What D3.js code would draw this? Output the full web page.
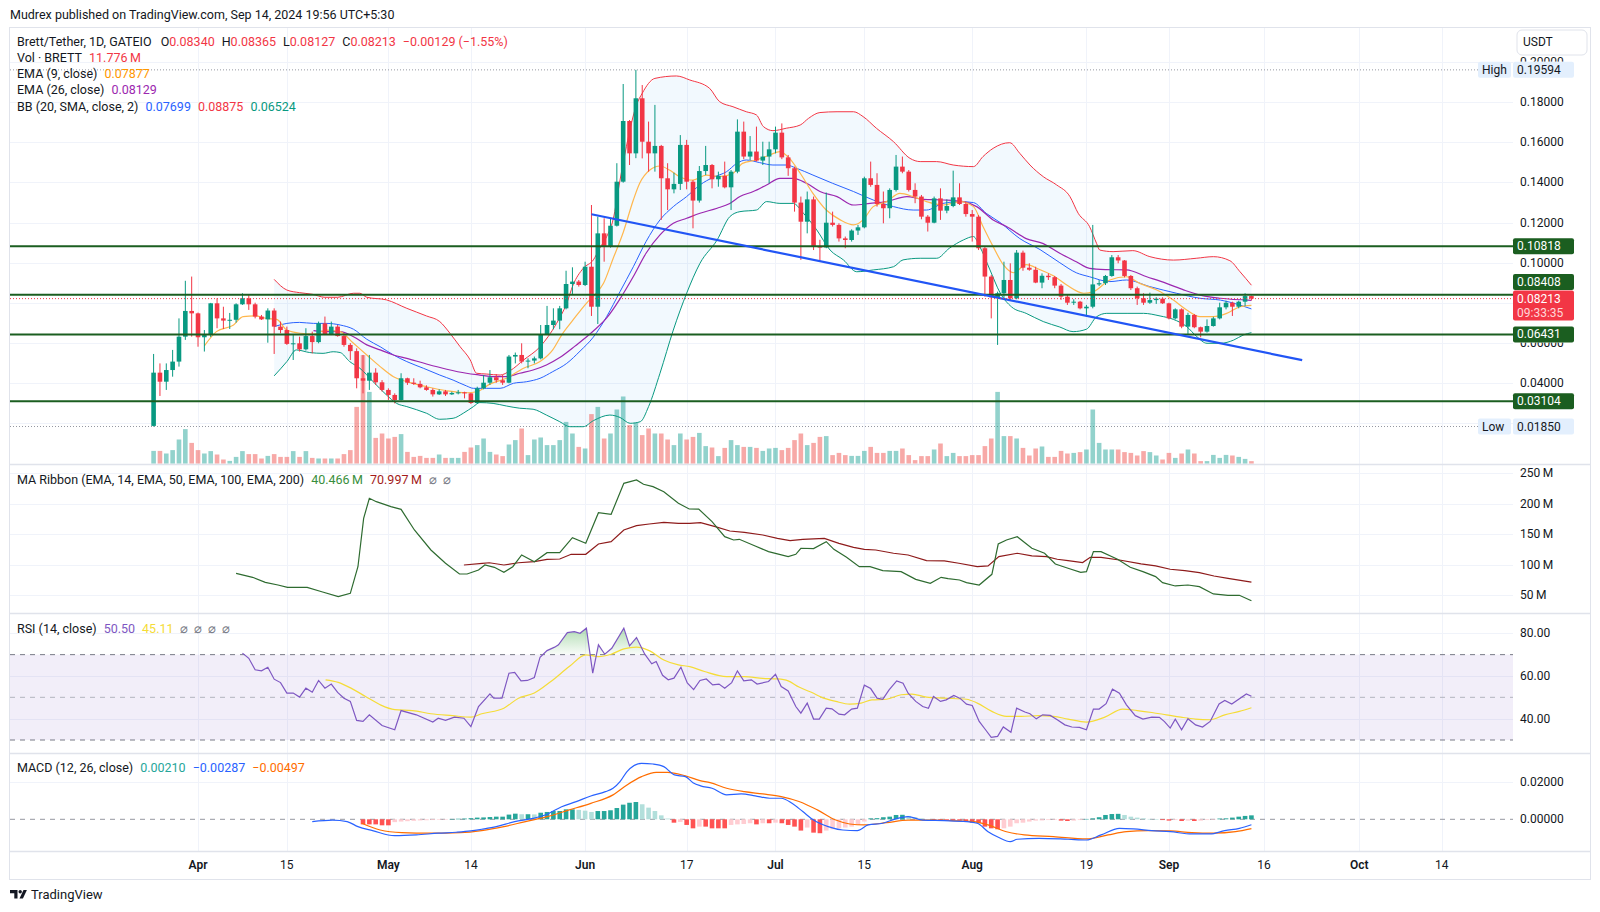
<!DOCTYPE html>
<html><head><meta charset="utf-8">
<script src="https://cdn.jsdelivr.net/npm/d3@7"></script>
<style>
body{margin:0;background:#fff;}
svg{display:block;font-family:Roboto,"Noto Sans",sans-serif;}
</style></head>
<body><svg id="c" width="1600" height="912"></svg>
<script>
// ---------------- DATA ----------------
const startDate = "2024-03-25"; // first daily bar
const open=[0.0188,0.0453,0.0408,0.0466,0.0508,0.0632,0.0760,0.0748,0.0629,0.0640,
0.0798,0.0723,0.0712,0.0716,0.0793,0.0823,0.0793,0.0732,0.0718,0.0762,
0.0682,0.0665,0.0596,0.0599,0.0569,0.0635,0.0605,0.0698,0.0645,0.0682,
0.0635,0.0591,0.0560,0.0425,0.0413,0.0453,0.0405,0.0367,0.0342,0.0317,
0.0425,0.0403,0.0397,0.0380,0.0367,0.0345,0.0360,0.0345,0.0352,0.0355,
0.0350,0.0302,0.0375,0.0403,0.0430,0.0415,0.0403,0.0533,0.0541,0.0508,
0.0513,0.0524,0.0645,0.0690,0.0712,0.0773,0.0894,0.0906,0.0889,0.0980,
0.0781,0.1146,0.1080,0.1184,0.1403,0.1705,0.1544,0.1818,0.1602,0.1544,
0.1581,0.1420,0.1365,0.1392,0.1586,0.1403,0.1309,0.1456,0.1486,0.1415,
0.1432,0.1375,0.1453,0.1652,0.1528,0.1553,0.1508,0.1528,0.1564,0.1647,
0.1524,0.1470,0.1299,0.1204,0.1315,0.1080,0.1076,0.1199,0.1188,0.1121,
0.1113,0.1160,0.1176,0.1420,0.1387,0.1292,0.1271,0.1362,0.1478,0.1453,
0.1362,0.1329,0.1229,0.1199,0.1320,0.1259,0.1282,0.1325,0.1292,0.1242,
0.1229,0.1072,0.0931,0.0828,0.0848,0.0914,0.0823,0.1050,0.0975,0.0965,
0.0901,0.0935,0.0928,0.0886,0.0831,0.0801,0.0806,0.0773,0.0781,0.0892,
0.0898,0.0934,0.1027,0.1011,0.0934,0.0873,0.0823,0.0801,0.0814,0.0821,
0.0798,0.0723,0.0768,0.0682,0.0740,0.0679,0.0657,0.0685,0.0723,0.0778,
0.0801,0.0781,0.0806,0.0834];
const high=[0.0546,0.0499,0.0499,0.0566,0.0723,0.0910,0.0931,0.0752,0.0665,0.0800,
0.0823,0.0781,0.0750,0.0798,0.0848,0.0839,0.0801,0.0740,0.0773,0.0773,
0.0707,0.0682,0.0640,0.0632,0.0674,0.0657,0.0707,0.0732,0.0707,0.0690,
0.0648,0.0600,0.0574,0.0541,0.0541,0.0475,0.0416,0.0375,0.0350,0.0450,
0.0428,0.0425,0.0413,0.0390,0.0375,0.0370,0.0367,0.0358,0.0367,0.0358,
0.0352,0.0383,0.0441,0.0466,0.0446,0.0441,0.0541,0.0553,0.0599,0.0524,
0.0533,0.0690,0.0785,0.0773,0.0785,0.0960,0.0977,0.0914,0.1005,0.1287,
0.1229,0.1221,0.1221,0.1495,0.1889,0.1710,0.19594,0.1884,0.1702,0.1785,
0.1586,0.1495,0.1448,0.1635,0.1611,0.1411,0.1481,0.1581,0.1491,0.1453,
0.1503,0.1461,0.1713,0.1702,0.1630,0.1677,0.1602,0.1602,0.1677,0.1693,
0.1536,0.1478,0.1329,0.1354,0.1329,0.1114,0.1349,0.1254,0.1196,0.1130,
0.1166,0.1188,0.1428,0.1503,0.1445,0.1354,0.1370,0.1536,0.1528,0.1461,
0.1395,0.1337,0.1237,0.1329,0.1370,0.1315,0.1458,0.1395,0.1304,0.1262,
0.1237,0.1080,0.0939,0.0856,0.1005,0.0997,0.1063,0.1060,0.0997,0.0980,
0.0947,0.0947,0.0934,0.0894,0.0839,0.0818,0.0810,0.0790,0.1188,0.0914,
0.0939,0.1038,0.1038,0.1013,0.0939,0.0881,0.0848,0.0851,0.0828,0.0828,
0.0801,0.0773,0.0773,0.0751,0.0745,0.0682,0.0718,0.0731,0.0801,0.0811,
0.0806,0.0811,0.0848,0.08365];
const low=[0.0185,0.0337,0.0367,0.0433,0.0483,0.0616,0.0632,0.0582,0.0558,0.0630,
0.0674,0.0670,0.0670,0.0702,0.0790,0.0765,0.0723,0.0715,0.0602,0.0546,
0.0649,0.0591,0.0516,0.0558,0.0563,0.0549,0.0599,0.0640,0.0640,0.0632,
0.0582,0.0516,0.0375,0.0350,0.0367,0.0392,0.0359,0.0317,0.0300,0.0314,
0.0392,0.0392,0.0375,0.0363,0.0334,0.0342,0.0337,0.0342,0.0345,0.0325,
0.0297,0.0297,0.0370,0.0392,0.0403,0.0392,0.0400,0.0499,0.0499,0.0475,
0.0499,0.0519,0.0640,0.0669,0.0669,0.0768,0.0840,0.0881,0.0884,0.0735,
0.0695,0.1005,0.1075,0.1180,0.1398,0.1486,0.1520,0.1519,0.1453,0.1453,
0.1213,0.1262,0.1345,0.1362,0.1365,0.1171,0.1299,0.1436,0.1370,0.1378,
0.1370,0.1262,0.1445,0.1515,0.1511,0.1503,0.1486,0.1395,0.1544,0.1515,
0.1432,0.1254,0.1014,0.1146,0.1063,0.1005,0.1072,0.1180,0.1105,0.1072,
0.1105,0.1138,0.1171,0.1378,0.1279,0.1196,0.1221,0.1354,0.1445,0.1354,
0.1296,0.1216,0.1155,0.1196,0.1213,0.1246,0.1276,0.1287,0.1229,0.1105,
0.1063,0.0831,0.0723,0.0591,0.0823,0.0815,0.0818,0.0960,0.0960,0.0898,
0.0873,0.0914,0.0873,0.0815,0.0790,0.0790,0.0768,0.0731,0.0773,0.0884,
0.0889,0.0930,0.0997,0.0927,0.0864,0.0790,0.0790,0.0795,0.0795,0.0795,
0.0718,0.0718,0.0674,0.0645,0.0674,0.0629,0.0652,0.0682,0.0718,0.0768,
0.0735,0.0773,0.0785,0.08127];
const close=[0.0453,0.0408,0.0466,0.0508,0.0632,0.0760,0.0748,0.0629,0.0640,0.0798,
0.0723,0.0712,0.0716,0.0793,0.0823,0.0793,0.0732,0.0718,0.0762,0.0682,
0.0665,0.0596,0.0599,0.0569,0.0635,0.0605,0.0698,0.0645,0.0682,0.0635,
0.0591,0.0560,0.0425,0.0413,0.0453,0.0405,0.0367,0.0342,0.0317,0.0425,
0.0403,0.0397,0.0380,0.0367,0.0345,0.0360,0.0345,0.0352,0.0355,0.0350,
0.0302,0.0375,0.0403,0.0430,0.0415,0.0403,0.0533,0.0541,0.0508,0.0513,
0.0524,0.0645,0.0690,0.0712,0.0773,0.0894,0.0906,0.0889,0.0980,0.0781,
0.1146,0.1080,0.1184,0.1403,0.1705,0.1544,0.1818,0.1602,0.1544,0.1581,
0.1420,0.1365,0.1392,0.1586,0.1403,0.1309,0.1456,0.1486,0.1415,0.1432,
0.1375,0.1453,0.1652,0.1528,0.1553,0.1508,0.1528,0.1564,0.1647,0.1524,
0.1470,0.1299,0.1204,0.1315,0.1080,0.1076,0.1199,0.1188,0.1121,0.1113,
0.1160,0.1176,0.1420,0.1387,0.1292,0.1271,0.1362,0.1478,0.1453,0.1362,
0.1329,0.1229,0.1199,0.1320,0.1259,0.1282,0.1325,0.1292,0.1242,0.1229,
0.1072,0.0931,0.0828,0.0848,0.0914,0.0823,0.1050,0.0975,0.0965,0.0901,
0.0935,0.0928,0.0886,0.0831,0.0801,0.0806,0.0773,0.0781,0.0892,0.0898,
0.0934,0.1027,0.1011,0.0934,0.0873,0.0823,0.0801,0.0814,0.0821,0.0798,
0.0723,0.0768,0.0682,0.0740,0.0679,0.0657,0.0685,0.0723,0.0778,0.0801,
0.0781,0.0806,0.0834,0.08213];
// volume, millions of BRETT
const volume=[63,63,50,67,120,172,103,67,50,62,45,20,13,33,62,47,47,25,38,47,
33,33,62,33,62,28,25,25,25,25,47,67,283,542,358,128,150,125,133,147,
58,33,38,28,28,45,28,28,28,58,80,92,125,58,45,37,95,117,175,42,
120,130,92,92,117,208,150,83,75,247,283,125,150,270,335,192,204,142,175,150,
150,120,92,150,120,133,153,87,80,37,78,117,92,83,83,78,63,75,78,67,
78,117,150,92,103,133,137,42,53,42,38,38,63,83,53,53,63,63,75,42,
17,37,37,70,100,37,53,37,37,42,42,87,125,358,137,137,125,78,40,75,
85,33,33,63,50,53,57,70,270,103,70,70,70,57,53,40,62,57,40,20,
53,28,50,70,50,12,12,43,28,43,40,33,23,11.776];

// indicator lines: [bar index, value]
const bbUpper=[[19,0.0917],[21,0.0864],[23,0.0851],[25,0.0843],[27,0.0828],[29,0.0828],[31.5,0.0848],[32.5,0.0848],[33.6,0.0828],[36.7,0.0815],[39.9,0.0773],[43,0.0735],[45.1,0.0707],[46.7,0.0649],[48.3,0.0582],[49.9,0.0516],[50.9,0.0450],[52.5,0.0446],[54.6,0.0441],[56.2,0.0463],[58.3,0.0516],[60.9,0.0582],[63.5,0.0698],[65.1,0.0798],[66.1,0.0889],[67.7,0.0972],[69.3,0.1014],[70.3,0.1072],[71.4,0.1130],[72.4,0.1213],[73.5,0.1411],[74.5,0.1577],[76.1,0.1785],[77,0.1843],[79,0.1917],[82.4,0.1929],[84.5,0.1909],[87.6,0.1868],[89.2,0.1801],[91.3,0.1776],[93.4,0.1751],[95,0.1735],[96.1,0.1677],[97.6,0.1657],[99.7,0.1669],[101.9,0.1685],[103.2,0.1718],[105,0.1747],[107.7,0.1751],[110.3,0.1751],[111.8,0.1727],[113.9,0.1669],[116.6,0.1602],[119.2,0.1519],[120.8,0.1503],[123.4,0.1503],[126,0.1486],[129.2,0.1478],[130.7,0.1528],[132.3,0.1569],[134.9,0.1597],[136.5,0.1544],[138.1,0.1486],[140.2,0.1428],[142.3,0.1387],[144.4,0.1329],[145.7,0.1246],[147.5,0.1179],[148.6,0.1096],[149.1,0.1063],[151.2,0.1055],[154.3,0.1060],[157,0.1030],[160.7,0.1013],[164.3,0.1022],[167,0.1030],[169.6,0.1010],[171.2,0.0955],[173,0.0888]];
const bbBasis=[[19,0.0682],[21,0.0698],[23,0.0703],[25.2,0.0698],[27.3,0.0698],[29.4,0.0690],[31.5,0.0669],[33.6,0.0619],[35.7,0.0582],[37.8,0.0541],[39.9,0.0508],[42.5,0.0475],[45.1,0.0441],[47.2,0.0416],[49.3,0.0387],[50.4,0.0375],[52.5,0.0375],[54.6,0.0375],[56.7,0.0400],[58.8,0.0408],[60.9,0.0425],[62.9,0.0458],[65.1,0.0499],[67.2,0.0560],[69.3,0.0630],[71.4,0.0732],[73.5,0.0856],[75.6,0.0980],[77.6,0.1105],[79.8,0.1213],[81.9,0.1279],[84,0.1329],[86.1,0.1387],[88.2,0.1425],[90.3,0.1453],[91.9,0.1494],[93.4,0.1511],[95.5,0.1498],[97.6,0.1486],[99.7,0.1486],[101.3,0.1470],[103.9,0.1436],[107,0.1395],[110.3,0.1354],[113.4,0.1312],[116.6,0.1279],[119.7,0.1262],[121.8,0.1262],[124.4,0.1295],[127.1,0.1304],[129.2,0.1299],[131.2,0.1246],[133.4,0.1200],[136.5,0.1120],[139.7,0.1065],[142.8,0.1000],[145.4,0.0950],[147.5,0.0930],[150.7,0.0906],[153.3,0.0914],[157,0.0881],[161.2,0.0848],[164.9,0.0823],[168.1,0.0814],[173,0.0770]];
const bbLower=[[19,0.0437],[21,0.0508],[22.5,0.0566],[24.6,0.0553],[26.7,0.0549],[28.3,0.0557],[29.4,0.0553],[30.9,0.0508],[32.5,0.0475],[34.6,0.0408],[36.7,0.0342],[38.3,0.0300],[39.9,0.0284],[43,0.0251],[45.1,0.0221],[47.2,0.0226],[48.8,0.0251],[50.4,0.0284],[51.4,0.0304],[53.5,0.0300],[55.6,0.0287],[57.7,0.0276],[59.8,0.0271],[61.9,0.0242],[64,0.0209],[65.6,0.0184],[67.7,0.0184],[69.3,0.0214],[71.9,0.0242],[73.5,0.0230],[75.1,0.0201],[76.7,0.0209],[78,0.0284],[79.8,0.0450],[81.9,0.0665],[84,0.0848],[86.1,0.0997],[88.8,0.1113],[90.8,0.1229],[92.4,0.1254],[95,0.1262],[96.6,0.1304],[98.7,0.1295],[100.8,0.1295],[102.4,0.1246],[104.5,0.1163],[106.6,0.1063],[108.7,0.1014],[110.8,0.0955],[113.4,0.0964],[116.6,0.0980],[118.1,0.1014],[120.8,0.1022],[123.4,0.1022],[125.4,0.1072],[127.6,0.1113],[129.2,0.1130],[130.2,0.1080],[131.8,0.0964],[133.4,0.0850],[135.2,0.0780],[137.5,0.0748],[140.2,0.0707],[142.8,0.0680],[144.9,0.0657],[147,0.0669],[148.6,0.0731],[150.2,0.0748],[153.4,0.0748],[156,0.0748],[158.6,0.0735],[160.7,0.0718],[162.8,0.0682],[164.4,0.0632],[166,0.0599],[168.1,0.0599],[170.2,0.0615],[171.7,0.0640],[173,0.0652]];
const ema9=[[8,0.0586],[9.9,0.0657],[12.6,0.0690],[14.1,0.0732],[16,0.0735],[17.8,0.0723],[19.4,0.0718],[21,0.0665],[23.1,0.0649],[25.2,0.0645],[27.3,0.0665],[29.4,0.0657],[31.5,0.0599],[33.6,0.0541],[35.7,0.0483],[37.8,0.0433],[39.9,0.0408],[43,0.0383],[46.2,0.0363],[49.3,0.0353],[50.9,0.0358],[53,0.0396],[55.6,0.0425],[58.3,0.0475],[60.9,0.0508],[62.9,0.0566],[64.3,0.0640],[66.1,0.0715],[68.2,0.0798],[69.5,0.0840],[70.9,0.0898],[72.4,0.1020],[74,0.1150],[75.6,0.1312],[76.6,0.1395],[78.2,0.1461],[79.8,0.1481],[81.3,0.1461],[82.9,0.1428],[85,0.1411],[87.1,0.1436],[89.2,0.1428],[91.3,0.1445],[92.8,0.1494],[95,0.1511],[97.1,0.1536],[98.7,0.1553],[100.2,0.1519],[101.9,0.1445],[103.9,0.1345],[106,0.1262],[108.2,0.1213],[110.3,0.1188],[111.8,0.1213],[113.4,0.1279],[115.5,0.1304],[117.6,0.1345],[119.7,0.1329],[121.8,0.1304],[124.4,0.1287],[127.1,0.1304],[129.2,0.1279],[130.7,0.1180],[132.3,0.1080],[133.9,0.0990],[135.5,0.0950],[137.5,0.0990],[139.7,0.0965],[141.8,0.0935],[143.9,0.0889],[146.6,0.0848],[148.1,0.0856],[150.7,0.0914],[153.3,0.0930],[155.4,0.0897],[158.1,0.0864],[160.7,0.0814],[162.8,0.0765],[164.9,0.0732],[167,0.0732],[169.1,0.0748],[171.2,0.0781],[173,0.0788]];
const ema26=[[25.2,0.0662],[27.3,0.0657],[29.4,0.0657],[31.5,0.0632],[33.6,0.0591],[35.7,0.0566],[37.8,0.0541],[39.9,0.0524],[43,0.0496],[46.2,0.0470],[49.3,0.0450],[51.4,0.0441],[53.5,0.0433],[55.6,0.0433],[57.7,0.0450],[59.8,0.0466],[61.9,0.0491],[64,0.0528],[66.4,0.0585],[69.3,0.0660],[71.4,0.0725],[73.5,0.0820],[75.6,0.0931],[77.6,0.1047],[79.8,0.1138],[81.9,0.1196],[84,0.1221],[86.1,0.1246],[88.8,0.1271],[90.8,0.1295],[92.4,0.1329],[94.5,0.1354],[96.6,0.1387],[98.7,0.1420],[100.8,0.1420],[102.9,0.1395],[105,0.1354],[107.7,0.1329],[110.3,0.1287],[112.9,0.1295],[115.5,0.1304],[118.7,0.1329],[121.3,0.1315],[124.4,0.1312],[127.6,0.1304],[129.7,0.1279],[132.3,0.1213],[134.4,0.1180],[137.5,0.1120],[140.2,0.1095],[142.8,0.1047],[145.4,0.1005],[147.5,0.0972],[150,0.0966],[153.3,0.0964],[156.5,0.0930],[159.6,0.0897],[162.3,0.0865],[164.9,0.0839],[168.1,0.0823],[173,0.0813]];
const trendLine=[[69,0.1241],[181,0.0515]];
const levels=[0.10818,0.08408,0.06431,0.03104];
const lastPrice=0.08213, allHigh=0.19594, allLow=0.01850;

// MA ribbon on volume (millions)
const ribbon14=[[13,85.5],[15.6,79],[17.6,70.8],[19.6,66.4],[21.1,62.6],[24.2,62.6],[26.5,55.4],[29.1,47.3],[31,52.7],[32.2,96.4],[33.1,175.7],[34,208.5],[35.1,203],[37.4,194.8],[39,190.4],[41.1,156.6],[43.7,123.8],[46,102],[48.2,84.4],[49.4,84.4],[51.2,91],[52.2,99.2],[53.7,95.4],[55.2,87.2],[56.6,96.4],[58,115.6],[60,104.6],[62,119.4],[64,119.4],[66,143.9],[68.1,134.7],[70.1,184.9],[72.1,182.3],[74.1,233.1],[76.1,238.5],[77.2,231.5],[78.7,227.6],[80.4,219.4],[82.7,200.3],[84.4,191],[85.9,190.9],[88,170.2],[90,145.6],[91.4,140.2],[92.3,141.3],[94.8,130.3],[96.9,121.1],[98.3,117.3],[100,112.9],[101.2,116.7],[102,126.6],[104,126],[106,137.5],[107.2,124.9],[109.2,111.8],[111.2,96.5],[112.9,96.5],[114.9,89.9],[117.8,88.3],[120.1,75.7],[122.4,69.1],[124.1,79],[125.2,76.8],[127,74.6],[128.1,70.2],[130.1,66.4],[132.1,83.9],[133.1,133.6],[134.4,140.2],[136.1,145.6],[138.4,126.6],[140.4,118.4],[142.1,100.9],[144.1,93.8],[146.1,87.2],[147,88.3],[148.1,121.1],[149.3,121.1],[151.9,108.6],[153.9,95.4],[155.9,88.3],[157.9,80.1],[159,70.2],[161,64.8],[163,66.4],[164.8,63.7],[167,51.7],[169.3,49.5],[171.1,49.5],[173,40.5]];
const ribbon50=[[48.9,99.2],[51.8,102],[52.9,102.9],[55.2,99.2],[57.5,102.9],[60,104.6],[62,108.5],[64,109],[65.8,116.7],[68.1,116.7],[70.1,133.6],[72.1,137.4],[74.1,156.6],[76.1,163.6],[78.1,166.4],[80.4,169.1],[82.7,167.5],[84.5,167.5],[86.2,168.6],[88.5,162],[90.8,154.9],[93.1,152.8],[96,148.4],[98.3,142.9],[100.3,139.1],[102.3,141.3],[105.7,142.9],[108,134.7],[110.3,128.2],[112,124.9],[113.8,123.8],[116.6,118.4],[118.9,115.6],[121.8,106.3],[124.6,105.8],[126.9,102],[129.8,96.5],[131.5,97.6],[133.2,112.9],[136.1,118.4],[138.4,114],[140.7,112.9],[142.4,108.6],[144.1,106.4],[146.4,103.1],[147.6,111.8],[149.3,111.8],[152.2,107.4],[155.6,100.9],[157.9,97.6],[160.2,92.2],[162.5,90],[164.8,86.7],[167.1,81.2],[169.3,77.4],[173,71]];

// RSI (14) and its MA
const rsi=[[14,70.7],[15,68.3],[16,62.9],[17,62.4],[18,64.1],[19,58.5],[20,56.9],[21,52],[22,52],[23,50.1],[24,54.3],[25,52.4],[26,57.9],[27,54.3],[28,56.2],[29,52.3],[30,49.6],[31,48.1],[32,39.2],[33,38.7],[34,41.8],[36,36.8],[38,34.8],[39,43.8],[41.4,41.8],[44,38.4],[44.85,40.2],[46,39.2],[47.4,40.7],[48.9,40.2],[50,36.3],[51.2,45.7],[53,51.6],[53.6,49.6],[54.9,49.6],[56,61.3],[56.9,61.7],[57.9,57.7],[58.9,57.9],[60,59.3],[60.9,68.8],[62,71.9],[63.2,73.5],[63.8,74.6],[65.2,80.3],[66.3,80.8],[67.2,80],[68.2,82.4],[69.2,61.3],[70.1,74.6],[71.1,70.2],[72.2,73],[74.1,82.4],[75,74.1],[76.1,78],[77.4,70.2],[78.5,65.7],[79.2,66.8],[80.2,60.3],[81.1,58.2],[82,59],[83.1,64.1],[84.1,56.7],[85.1,53.6],[86.1,57.9],[87.1,58.6],[88.1,55.8],[89.1,56.2],[90,54.3],[91.1,56.9],[92,62.4],[93,57.7],[94.2,58.2],[95.1,56.2],[96.9,57.4],[98,60.8],[98.9,55.05],[100,53],[101.2,45.7],[102,42.6],[103,47.3],[104,39.8],[104.9,39.8],[106,44.9],[106.9,44.6],[108,42.1],[108.9,41.8],[110,44.5],[110.9,44.9],[112,55.7],[113,54.1],[114,49.6],[114.9,49.1],[115.9,53.5],[117.1,57.7],[118.1,56.6],[118.9,51.9],[120.1,48.1],[121.2,45.7],[122.1,44.9],[122.9,50.4],[124,48.1],[124.9,48.8],[126.1,50.9],[127.1,49.5],[128.1,46.8],[129,46.2],[130.1,38.7],[131.1,34.8],[132,31.2],[133,31.7],[133.9,36.1],[135.1,33.6],[136,44.9],[137.3,43.1],[138.1,42.3],[139.1,39.9],[140.1,41.8],[141.3,41.5],[142.4,39.5],[143.6,37.1],[144.7,36.1],[145.9,35.9],[147,34.8],[148.1,44.5],[149,44.5],[150.1,47],[151.1,53.8],[152.2,51.9],[153.3,46.5],[154.7,41.4],[155.9,39.8],[157.3,40.7],[158.5,40.6],[159.3,38.6],[160.2,35.6],[161,39.8],[162,34.8],[163,40],[164.2,37.1],[165.3,36.1],[166.5,38.7],[167.9,46.9],[168.8,48.5],[169.9,46.9],[172.2,51.6],[173,50.5]];
const rsiMA=[[27.1,58.2],[29.1,57],[31.1,54.3],[33.4,50.4],[35.7,46.5],[38,44.2],[40.8,43.8],[43.7,42.3],[47.1,41.4],[50,40.7],[51.7,42.3],[55.2,44.9],[57.5,49.6],[60,52],[62.6,57.4],[65.5,64.4],[68.1,69.9],[70.1,69.1],[72.1,70.2],[74.1,72.7],[76.1,73.5],[78.1,71.9],[80.4,67.5],[82.7,65.2],[84.5,64.4],[86.8,62.1],[90.3,59.7],[93.1,59.7],[96,58.9],[98.3,58.6],[100,57.7],[101.7,54.8],[104,51.9],[105.2,50.1],[107.5,48.1],[109.7,46.8],[111.5,47.3],[113.2,48.8],[115.5,49.1],[117.8,51.2],[119.5,51.5],[121.8,50.1],[124.6,49.6],[128.1,49.1],[129.8,47.3],[132.1,43.4],[134.4,41.1],[136.7,41.1],[139.5,41.4],[141.8,41.1],[144.1,39.8],[147,38.4],[149.9,40.7],[152.7,44.5],[155,43.8],[157.3,42.9],[159.6,41.8],[161.9,40.7],[164.2,39.8],[166.5,39.5],[168.8,41.8],[171.1,43.4],[173,45.1]];

// MACD (12, 26)
const macdLine=[[25,-0.0012],[28.2,-0.0004],[30.5,-0.0012],[32.2,-0.0039],[34.5,-0.0060],[38,-0.0087],[41.4,-0.0083],[44.85,-0.0074],[47.7,-0.0069],[50,-0.0062],[51.7,-0.0053],[54,-0.0039],[56.9,-0.0012],[59.8,0.0005],[62,0.0027],[64.3,0.0067],[66.6,0.0094],[68.9,0.0124],[71.2,0.0147],[72.4,0.0165],[73.5,0.0200],[74.6,0.0254],[76.9,0.0298],[78.7,0.0294],[80.4,0.0280],[82.1,0.0236],[83.8,0.0227],[85,0.0195],[86.2,0.0178],[88,0.0165],[90.3,0.0130],[92.6,0.0135],[94.8,0.0125],[97.1,0.0112],[98.9,0.0112],[100.6,0.0085],[102.3,0.0041],[104,-0.0004],[106.3,-0.0039],[108.6,-0.0057],[110.9,-0.0060],[112.6,-0.0030],[114.9,-0.0021],[117.2,0.0005],[118.9,0.0014],[121.2,-0.0004],[124.6,-0.0007],[128.1,-0.0012],[129.8,-0.0021],[131.5,-0.0066],[133.2,-0.0097],[135,-0.0119],[136.1,-0.0106],[139.5,-0.0101],[144.1,-0.0106],[147,-0.0110],[149.3,-0.0083],[152.2,-0.0048],[154.4,-0.0051],[157.3,-0.0060],[160.2,-0.0066],[163.6,-0.0078],[166.5,-0.0078],[168.8,-0.0060],[171.1,-0.0048],[173,-0.0029]];
const macdSignal=[[32.8,-0.0021],[35.7,-0.0057],[39.1,-0.0071],[43.7,-0.0074],[48.3,-0.0071],[51.7,-0.0060],[55.2,-0.0039],[58.6,-0.0012],[62,0.0014],[65.5,0.0050],[68.9,0.0085],[72.4,0.0130],[74.6,0.0183],[76.9,0.0227],[79.2,0.0250],[81,0.0250],[83.8,0.0231],[86.1,0.0206],[87.7,0.0195],[90.3,0.0165],[93.1,0.0147],[96,0.0135],[98.9,0.0121],[101.7,0.0095],[104.6,0.0050],[107.5,-0.0004],[109.7,-0.0025],[112,-0.0030],[115.5,-0.0018],[118.9,-0.0004],[122.4,-0.0004],[125.8,-0.0007],[129.2,-0.0012],[131.5,-0.0030],[134.4,-0.0066],[137.2,-0.0083],[141.8,-0.0092],[147,-0.0104],[150.4,-0.0083],[153.3,-0.0066],[156.7,-0.0060],[160.2,-0.0062],[163.6,-0.0071],[167,-0.0074],[170.5,-0.0066],[173,-0.0050]];
const macdHistStart=33;
const macdHistMilli=[-2.7,-2.7,-2.7,-3.2,-3.2,-1.5,-1.2,-1.0,-0.8,-0.6,-0.5,-0.4,-0.3,-0.2,
0.2,0.3,0.4,0.6,0.9,1.0,1.2,1.4,1.4,2.5,3.0,2.7,2.7,2.6,
3.5,3.9,4.4,4.4,5.3,5.3,5.0,4.6,3.9,4.4,4.4,4.8,6.0,
7.8,8.8,9.2,8.0,6.2,4.4,2.1,0.4,-1.8,-1.4,-3.0,-4.8,-3.9,-3.9,
-4.8,-4.8,-4.8,-3.0,-2.7,-2.5,-2.1,-2.7,-2.1,-2.1,-1.8,-2.1,-3.0,
-3.9,-6.0,-4.4,-7.1,-7.4,-6.0,-5.3,-4.8,-4.4,-3.9,-3.0,-1.2,
0.5,0.6,1.1,1.4,2.3,2.4,1.8,1.1,0.5,0.1,-0.4,-0.4,-0.4,-0.4,
-0.7,-1.2,-1.8,-1.9,-3.9,-4.8,-5.3,-4.8,-3.9,-2.1,-1.8,-1.2,-0.7,-0.6,
-0.4,-0.3,-0.7,-0.9,-0.7,-0.4,0.2,0.5,1.1,2.3,2.8,2.9,2.3,1.4,
0.9,0.5,0.2,0.0,-0.4,-0.7,-0.4,-0.9,-0.7,-0.9,-0.7,-0.4,-0.2,0.4,
0.5,0.9,1.4,1.8,2.1];

// axis ticks (0.02 and 0.08 are fully hidden behind labels in the reference)
const priceTicks=[0.04,0.06,0.10,0.12,0.14,0.16,0.18,0.20];
const priceGrid=[0.02,0.04,0.06,0.08,0.10,0.12,0.14,0.16,0.18,0.20];
const ribbonTicks=[50,100,150,200,250];
const rsiTicks=[40,60,80];
const macdTicks=[0,0.02];
const dateTicks=["2024-04-01","2024-04-15","2024-05-01","2024-05-14","2024-06-01","2024-06-17","2024-07-01","2024-07-15","2024-08-01","2024-08-19","2024-09-01","2024-09-16","2024-10-01","2024-10-14"];
const dateLabels=["Apr","15","May","14","Jun","17","Jul","15","Aug","19","Sep","16","Oct","14"];

// ---------------- LAYOUT ----------------
const svg=d3.select("#c");
const L=10, R=1513, AX=1590;
const pMain=[28,464], pRib=[464,613], pRsi=[613,753], pMacd=[753,851], pTime=[851,879];
const TXT="#131722", GRID="#f0f3fa", SEP="#e0e3eb";
const UP="#089981", DN="#f23645";

const t0=d3.utcParse("%Y-%m-%d")(startDate);
const x=d3.scaleUtc().domain([t0,d3.utcParse("%Y-%m-%d")("2024-10-14")]).range([153.6,1441.8]);
const xi=i=>x(new Date(t0.getTime()+i*864e5));
const yP=d3.scaleLinear().domain([0.04,0.18]).range([383.3,101.9]);
const yV=d3.scaleLinear().domain([0,1000]).range([463.5,263.5]);
const yRb=d3.scaleLinear().domain([50,250]).range([595,473]);
const yR=d3.scaleLinear().domain([30,80]).range([740,633.3]);
const yM=d3.scaleLinear().domain([0,0.02]).range([819.3,781.7]);

const defs=svg.append("defs");
function clip(id,y0,y1){defs.append("clipPath").attr("id",id).append("rect").attr("x",L).attr("y",y0).attr("width",R-L).attr("height",y1-y0);}
clip("cMain",pMain[0],pMain[1]);clip("cRib",pRib[0],pRib[1]);clip("cRsi",pRsi[0],pRsi[1]);clip("cMacd",pMacd[0],pMacd[1]);

// header
svg.append("text").attr("x",10).attr("y",19).attr("font-size",12.5).attr("fill",TXT)
  .text("Mudrex published on TradingView.com, Sep 14, 2024 19:56 UTC+5:30");

// frame
svg.append("rect").attr("x",9.5).attr("y",27.5).attr("width",AX-9).attr("height",pTime[1]-27).attr("fill","none").attr("stroke",SEP);

// vertical grid
const tickDates=dateTicks.map(d=>d3.utcParse("%Y-%m-%d")(d));
svg.append("g").selectAll("line").data(tickDates).join("line")
  .attr("x1",d=>Math.round(x(d))+0.5).attr("x2",d=>Math.round(x(d))+0.5)
  .attr("y1",pMain[0]).attr("y2",pMacd[1]).attr("stroke",GRID);

// horizontal grids
function hgrid(ticks,sc,y0,y1){
  svg.append("g").selectAll("line").data(ticks.filter(t=>sc(t)>y0+2&&sc(t)<y1-2)).join("line")
   .attr("x1",L).attr("x2",R).attr("y1",d=>Math.round(sc(d))+0.5).attr("y2",d=>Math.round(sc(d))+0.5).attr("stroke",GRID);
}
hgrid(priceGrid,yP,pMain[0],pMain[1]);
hgrid(ribbonTicks,yRb,pRib[0],pRib[1]);
hgrid(rsiTicks,yR,pRsi[0],pRsi[1]);
hgrid([0.02],yM,pMacd[0],pMacd[1]);

// pane separators
svg.append("g").selectAll("line").data([pMain[1],pRib[1],pRsi[1],pMacd[1]]).join("line")
  .attr("x1",L).attr("x2",AX).attr("y1",d=>d+0.5).attr("y2",d=>d+0.5).attr("stroke",SEP).attr("stroke-width",1.5);

// ---------------- MAIN PANE ----------------
const gm=svg.append("g").attr("clip-path","url(#cMain)");
const pt=(sc)=>d=>[xi(d[0]),sc(d[1])];
// BB fill
const poly=bbUpper.map(pt(yP)).concat(bbLower.slice().reverse().map(pt(yP)));
gm.append("path").attr("d",d3.line()(poly)+"Z").attr("fill","rgba(33,150,243,0.06)");
// high / low dotted
[allHigh,allLow].forEach(v=>{
  gm.append("line").attr("x1",L).attr("x2",R).attr("y1",yP(v)).attr("y2",yP(v))
    .attr("stroke","#9598a1").attr("stroke-width",1).attr("stroke-dasharray","1,2");
});
// volume
const idx=d3.range(close.length);
const bw=4.6;
gm.append("g").selectAll("rect").data(idx).join("rect")
  .attr("x",i=>xi(i)-bw/2).attr("width",bw)
  .attr("y",i=>yV(volume[i])).attr("height",i=>yV(0)-yV(volume[i]))
  .attr("fill",i=>close[i]>=open[i]?"rgba(38,166,154,0.5)":"rgba(239,83,80,0.5)");
// BB lines & EMAs
function drawLine(g,data,sc,color,w,curve){
  g.append("path").attr("d",d3.line().curve(curve||d3.curveMonotoneX)(data.map(pt(sc))))
   .attr("fill","none").attr("stroke",color).attr("stroke-width",w);
}
drawLine(gm,bbUpper,yP,"#f23645",1);
drawLine(gm,bbLower,yP,"#089981",1);
drawLine(gm,bbBasis,yP,"#2962ff",1);
drawLine(gm,ema26,yP,"#9c27b0",1.2);
drawLine(gm,ema9,yP,"#ffb74d",1.2);
// candles
const cg=gm.append("g");
cg.selectAll("line").data(idx).join("line")
  .attr("x1",i=>xi(i)).attr("x2",i=>xi(i)).attr("y1",i=>yP(high[i])).attr("y2",i=>yP(low[i]))
  .attr("stroke",i=>close[i]>=open[i]?UP:DN).attr("stroke-width",1);
cg.selectAll("rect").data(idx).join("rect")
  .attr("x",i=>xi(i)-bw/2).attr("width",bw)
  .attr("y",i=>yP(Math.max(open[i],close[i])))
  .attr("height",i=>Math.max(1,Math.abs(yP(open[i])-yP(close[i]))))
  .attr("fill",i=>close[i]>=open[i]?UP:DN);
// horizontal levels
gm.append("g").selectAll("line").data(levels).join("line")
  .attr("x1",L).attr("x2",R).attr("y1",d=>yP(d)).attr("y2",d=>yP(d))
  .attr("stroke","#1b5e20").attr("stroke-width",2);
// trend line
gm.append("path").attr("d",d3.line()(trendLine.map(pt(yP)))).attr("stroke","#2155f5").attr("stroke-width",2.2).attr("fill","none");
// last price dotted
gm.append("line").attr("x1",L).attr("x2",R).attr("y1",yP(lastPrice)).attr("y2",yP(lastPrice))
  .attr("stroke",DN).attr("stroke-dasharray","1,2");

// ---------------- RIBBON ----------------
const gr=svg.append("g").attr("clip-path","url(#cRib)");
drawLine(gr,ribbon50,yRb,"#8e1b1b",1.2,d3.curveLinear);
drawLine(gr,ribbon14,yRb,"#2e6b30",1.2,d3.curveLinear);

// ---------------- RSI ----------------
const gs=svg.append("g").attr("clip-path","url(#cRsi)");
gs.append("rect").attr("x",L).attr("width",R-L).attr("y",yR(70)).attr("height",yR(30)-yR(70)).attr("fill","rgba(126,87,194,0.1)");
const grad=defs.append("linearGradient").attr("id","ob").attr("x1",0).attr("x2",0).attr("gradientUnits","userSpaceOnUse")
  .attr("y1",yR(83)).attr("y2",yR(70));
grad.append("stop").attr("offset",0).attr("stop-color","rgba(76,175,80,0.45)");
grad.append("stop").attr("offset",1).attr("stop-color","rgba(76,175,80,0.03)");
defs.append("clipPath").attr("id","cOb").append("rect").attr("x",L).attr("y",pRsi[0]).attr("width",R-L).attr("height",yR(70)-pRsi[0]);
gs.append("path").attr("clip-path","url(#cOb)")
  .attr("d",d3.area().x(d=>xi(d[0])).y0(yR(70)).y1(d=>yR(d[1]))(rsi)).attr("fill","url(#ob)");
[[70,"#787b86"],[50,"#b2b5be"],[30,"#787b86"]].forEach(([v,c])=>{
  gs.append("line").attr("x1",L).attr("x2",R).attr("y1",yR(v)).attr("y2",yR(v)).attr("stroke",c).attr("stroke-dasharray","5,5");
});
drawLine(gs,rsiMA,yR,"#f5dc37",1.2);
drawLine(gs,rsi,yR,"#7e57c2",1.2,d3.curveLinear);

// ---------------- MACD ----------------
const gd=svg.append("g").attr("clip-path","url(#cMacd)");
gd.append("line").attr("x1",L).attr("x2",R).attr("y1",yM(0)).attr("y2",yM(0)).attr("stroke","#9598a1").attr("stroke-dasharray","5,5");
const hist=macdHistMilli.map((v,k)=>({i:macdHistStart+k,v:v/1000,prev:k?macdHistMilli[k-1]/1000:0}));
gd.append("g").selectAll("rect").data(hist).join("rect")
  .attr("x",d=>xi(d.i)-bw/2).attr("width",bw)
  .attr("y",d=>Math.min(yM(d.v),yM(0))).attr("height",d=>Math.max(0.5,Math.abs(yM(d.v)-yM(0))))
  .attr("fill",d=>d.v>=0?(d.v>=d.prev?"#26a69a":"#b2dfdb"):(d.v<=d.prev?"#ff5252":"#ffcdd2"));
drawLine(gd,macdSignal,yM,"#ff6d00",1.2);
drawLine(gd,macdLine,yM,"#2962ff",1.2);

// ---------------- AXES (right) ----------------
const lastY=yP(lastPrice);
// label boxes on the price scale (centre y, height)
const boxSpans=[[yP(allHigh)-8,yP(allHigh)+8],[yP(allLow)-8,yP(allLow)+8],[lastY-8,lastY+22]];
const levelY=levels.map(v=>{let yc=yP(v); if(yc>lastY-24&&yc<=lastY) yc=lastY-16.5; return yc;});
levelY.forEach(yc=>boxSpans.push([yc-8,yc+8]));
// clip the tick labels so that they only show outside the boxes, as on the reference
const free=[]; let cur=pMain[0];
boxSpans.slice().sort((a,b)=>a[0]-b[0]).forEach(([a,b])=>{ if(a>cur) free.push([cur,a]); cur=Math.max(cur,b); });
free.push([cur,pMain[1]]);
const tcp=defs.append("clipPath").attr("id","cTicks");
free.forEach(([a,b])=>tcp.append("rect").attr("x",R).attr("y",a).attr("width",AX-R).attr("height",b-a));

const ax=svg.append("g").attr("font-size",12).attr("fill",TXT);
const fmt5=d3.format(".5f");
ax.append("g").attr("clip-path","url(#cTicks)").selectAll("text").data(priceTicks).join("text").attr("x",1520).attr("y",d=>yP(d)+4).text(d=>fmt5(d));
ax.append("g").selectAll("text").data(ribbonTicks).join("text").attr("x",1520).attr("y",d=>yRb(d)+4).text(d=>d+"\u2009M");
ax.append("g").selectAll("text").data(rsiTicks).join("text").attr("x",1520).attr("y",d=>yR(d)+4).text(d=>d3.format(".2f")(d));
ax.append("g").selectAll("text").data(macdTicks).join("text").attr("x",1520).attr("y",d=>yM(d)+4).text(d=>fmt5(d));

// USDT box
svg.append("rect").attr("x",1517).attr("y",30).attr("width",70).attr("height",25).attr("rx",5).attr("fill","#fff").attr("stroke","#e0e3eb");
svg.append("text").attr("x",1523).attr("y",46).attr("font-size",12).attr("fill",TXT).text("USDT");

function box(yc,txt,fill,col,x0,w){
  svg.append("rect").attr("x",x0||1513).attr("y",yc-8).attr("width",w||61).attr("height",16).attr("rx",2).attr("fill",fill);
  svg.append("text").attr("x",(x0||1513)+4).attr("y",yc+4).attr("font-size",12).attr("fill",col).text(txt);
}
// High / Low
box(yP(allHigh),fmt5(allHigh),"#e3effd",TXT);
box(yP(allHigh),"High","#e3effd",TXT,1478,33);
box(yP(allLow),fmt5(allLow),"#e3effd",TXT);
box(yP(allLow),"Low","#e3effd",TXT,1478,33);
levels.forEach((v,k)=>box(levelY[k],fmt5(v),"#1b5e20","#ffffff"));
// last price label
svg.append("rect").attr("x",1513).attr("y",lastY-8).attr("width",61).attr("height",30).attr("rx",2).attr("fill",DN);
svg.append("text").attr("x",1517).attr("y",lastY+4).attr("font-size",12).attr("fill","#fff").text(fmt5(lastPrice));
svg.append("text").attr("x",1517).attr("y",lastY+18).attr("font-size",12).attr("fill","#ffd6d9").text("09:33:35");

// time axis
svg.append("g").selectAll("text").data(tickDates).join("text")
  .attr("x",d=>x(d)).attr("y",869).attr("text-anchor","middle").attr("font-size",12).attr("fill",TXT)
  .attr("font-weight",(d,k)=>isNaN(+dateLabels[k])?600:400).text((d,k)=>dateLabels[k]);

// ---------------- LEGENDS ----------------
function legend(y,parts){
  const t=svg.append("text").attr("x",17).attr("y",y).attr("font-size",12.5).attr("fill",TXT);
  parts.forEach(([s,c,dx])=>t.append("tspan").attr("fill",c||TXT).attr("dx",dx||0).text(s));
}
const RED="#f23645";
legend(46,[["Brett/Tether, 1D, GATEIO"],["O",TXT,9],["0.08340",RED],["H",TXT,7],["0.08365",RED],["L",TXT,7],["0.08127",RED],["C",TXT,7],["0.08213",RED],["\u22120.00129 (\u22121.55%)",RED,7]]);
legend(62,[["Vol \u00b7 BRETT"],["11.776\u2009M",RED,7]]);
legend(78,[["EMA (9, close)"],["0.07877","#ff9800",7]]);
legend(94,[["EMA (26, close)"],["0.08129","#9c27b0",7]]);
legend(111,[["BB (20, SMA, close, 2)"],["0.07699","#2962ff",7],["0.08875",RED,7],["0.06524","#089981",7]]);
legend(484,[["MA Ribbon (EMA, 14, EMA, 50, EMA, 100, EMA, 200)"],["40.466\u2009M","#388e3c",7],["70.997\u2009M","#a31b1b",7],["\u2300","#787b86",7],["\u2300","#787b86",6]]);
legend(633,[["RSI (14, close)"],["50.50","#7e57c2",7],["45.11","#f5dc37",7],["\u2300","#787b86",7],["\u2300","#787b86",6],["\u2300","#787b86",6],["\u2300","#787b86",6]]);
legend(772,[["MACD (12, 26, close)"],["0.00210","#26a69a",7],["\u22120.00287","#2962ff",7],["\u22120.00497","#ff6d00",7]]);

// footer logo
const lg=svg.append("g").attr("fill","#131722");
lg.append("path").attr("d","M10 890 h7.5 v8.5 h-3.2 v-5.3 h-4.3 z");
lg.append("circle").attr("cx",20.2).attr("cy",891.7).attr("r",1.7);
lg.append("path").attr("d","M19.5 898.5 l4 -8.5 h3.4 l-4 8.5 z");
svg.append("text").attr("x",31).attr("y",899).attr("font-size",13).attr("fill",TXT).text("TradingView");
</script></body></html>
